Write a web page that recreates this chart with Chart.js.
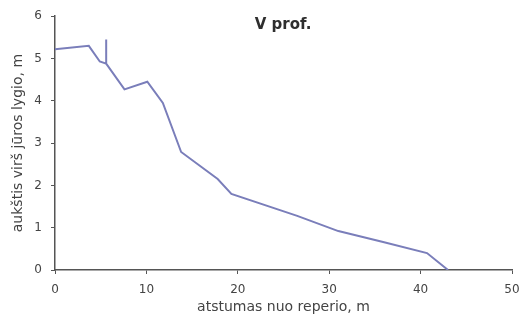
<!DOCTYPE html>
<html>
<head>
<meta charset="utf-8">
<script src="https://cdn.jsdelivr.net/npm/chart.js@4"></script>
<style>
html,body{margin:0;padding:0;background:#fff;}
#wrap{width:521px;height:320px;position:relative;}
</style>
</head>
<body>
<div id="wrap"><canvas id="c" width="521" height="320"></canvas></div>
<script>
const distances = [0, 3.7, 4.9, 5.6, 5.6, 5.6, 7.6, 10.1, 11.8, 13.8, 17.8, 19.3, 26.5, 31.0, 35.9, 40.7, 43.0];
const heights   = [5.22, 5.3, 4.93, 4.88, 5.45, 4.88, 4.27, 4.45, 3.95, 2.79, 2.15, 1.8, 1.28, 0.92, 0.66, 0.4, 0.0];
const xTicks = [0, 10, 20, 30, 40, 50];
const yTicks = [0, 1, 2, 3, 4, 5, 6];
const chartTitle = 'V prof.';
const xTitle = 'atstumas nuo reperio, m';
const yTitle = 'aukštis virš jūros lygio, m';

const points = distances.map((d, i) => ({x: d, y: heights[i]}));

const titlePlugin = {
  id: 'innerTitle',
  afterDraw(chart) {
    const ctx = chart.ctx;
    ctx.save();
    ctx.font = 'bold 15px "DejaVu Sans"';
    ctx.fillStyle = '#2e2e2e';
    ctx.textAlign = 'center';
    ctx.textBaseline = 'middle';
    ctx.fillText(chartTitle, 283, 25);
    ctx.restore();
  }
};

new Chart(document.getElementById('c'), {
  type: 'scatter',
  data: {
    datasets: [{
      data: points,
      showLine: true,
      borderColor: 'rgb(122,126,186)',
      borderWidth: 2,
      pointRadius: 0,
      tension: 0,
      fill: false
    }]
  },
  plugins: [titlePlugin],
  options: {
    responsive: false,
    animation: false,
    layout: {padding: {left: 6, right: 9, top: 16, bottom: 0}},
    plugins: {legend: {display: false}, tooltip: {enabled: false}},
    scales: {
      x: {
        type: 'linear', min: 0, max: 50,
        afterBuildTicks(s) { s.ticks = xTicks.map(v => ({value: v})); },
        ticks: {color: '#444', font: {family: '"DejaVu Sans"', size: 12}, padding: 9},
        grid: {drawOnChartArea: false, color: '#555', tickLength: 4},
        border: {color: '#555', width: 1.5},
        title: {display: true, text: xTitle, color: '#444', font: {family: '"DejaVu Sans"', size: 14}, padding: {top: 4}},
        afterFit(s) { s.height = 50; s.paddingRight = 0; s.paddingLeft = 0; }
      },
      y: {
        type: 'linear', min: 0, max: 6,
        afterBuildTicks(s) { s.ticks = yTicks.map(v => ({value: v})); },
        ticks: {color: '#444', font: {family: '"DejaVu Sans"', size: 12}, padding: 9},
        grid: {drawOnChartArea: false, color: '#555', tickLength: 4},
        border: {color: '#555', width: 1.5},
        title: {display: true, text: yTitle, color: '#444', font: {family: '"DejaVu Sans"', size: 14}, padding: {bottom: 2}},
        afterFit(s) { s.width = 49; }
      }
    }
  }
});
</script>
</body>
</html>
